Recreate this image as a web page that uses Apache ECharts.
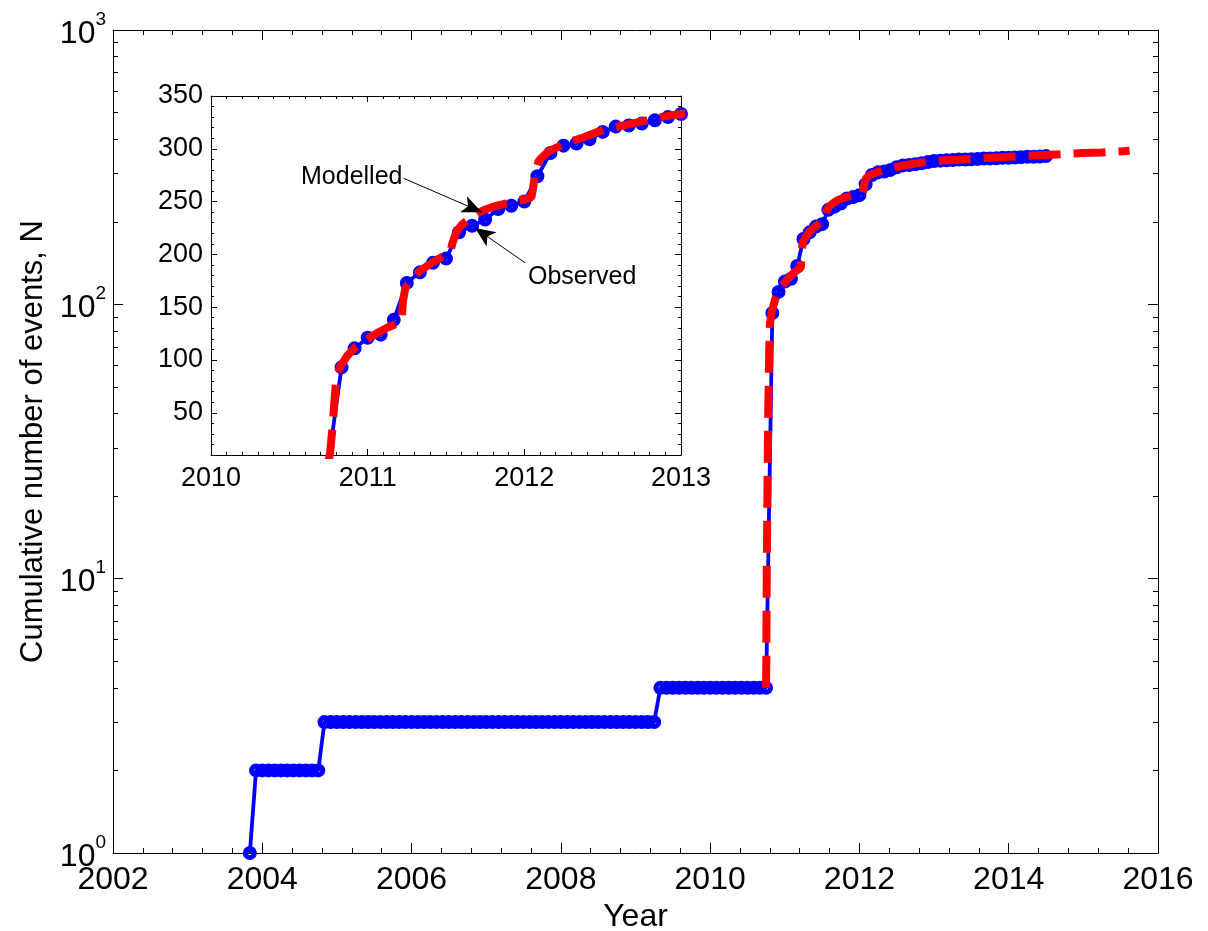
<!DOCTYPE html>
<html><head><meta charset="utf-8">
<script src="https://cdn.jsdelivr.net/npm/echarts@6/dist/echarts.min.js"></script>
<style>html,body{margin:0;padding:0;background:#fff}#c{width:1208px;height:931px}</style>
</head><body><div id="c"></div>
<script>
// ---------- data ----------
// Observed cumulative counts, one value per month starting November 2003
const observedStartYear = 2003;
const observedStartMonth = 11;
const observedCounts = [
  1,
  2,2,2,2,2,2,2,2,2,2,2,
  3,3,3,3,3,3,3,3,3,3,3,3,3,3,3,3,3,3,3,3,3,3,3,3,3,3,3,3,3,3,3,3,3,3,3,3,3,3,3,3,3,3,3,3,3,3,3,3,3,3,3,3,3,3,
  4,4,4,4,4,4,4,4,4,4,4,4,4,4,4,4,4,4,
  93,111,121,124,138,173,183,192,196,221,227,233,243,246,
  250,274,296,303,305,309,316,321,322,324,327,330,
  333,334,335,336,337,337,338,339,340,340,341,342,342,
  343,344,345,345,346,347
];
// Modelled cumulative counts (red dashed curve)
const modelYears = [2010.75,2010.76,2010.775,2010.79,2010.80,2010.83,2010.87,2010.92,2010.97,2011.02,
  2011.08,2011.13,2011.18,2011.215,2011.225,2011.24,2011.28,2011.33,2011.38,2011.43,
  2011.48,2011.525,2011.54,2011.565,2011.60,2011.65,2011.70,2011.76,2011.82,2011.88,
  2011.94,2012.00,2012.045,2012.055,2012.07,2012.09,2012.12,2012.16,2012.22,2012.30,
  2012.38,2012.45,2012.52,2012.60,2012.69,2012.78,2012.87,2012.95,2013.0,2013.25,
  2013.5,2013.75,2014.0,2014.25,2014.5,2014.75,2015.0,2015.25,2015.5,2015.62];
const modelValues = [4,12,35,65,85,95,104,112,117,122,
  127,131,134,136,155,168,176,184,189,194,
  198,201,210,221,228,234,239,243,246,248,
  250,252,254,262,277,288,293,298,302,307,
  311,315,318,321,324,327,330,332,333,336,
  339,342,345,348,350,353,356,358,361,363];
// Axis ranges / tick labels
const mainYears = [2002, 2016];
const mainCounts = [1, 1000];
const insetYears = [2010, 2013];
const insetCounts = [10, 350];
const insetYTicks = [50, 100, 150, 200, 250, 300, 350];
// Annotations (text, arrow tail [year,count], arrow head [year,count])
const annModelled = {text: 'Modelled', tail: [2011.23, 272], head: [2011.729, 240]};
const annObserved = {text: 'Observed', tail: [2012.005, 192], head: [2011.686, 225]};

// ---------- build ----------
const F = "'Liberation Sans', Arial, Helvetica, sans-serif";
const obsData = observedCounts.map((c, i) => [observedStartYear + (observedStartMonth - 1 + i) / 12, c]);
const modelData = modelYears.map((y, i) => [y, modelValues[i]]);

const logMinorTicks = [];
for (let d = 0; d < 3; d++) for (let k = 2; k <= 9; k++) logMinorTicks.push(d + Math.log10(k));

const black = '#000';
const axLine = {show: true, onZero: false, lineStyle: {color: black, width: 1}};
const noSplit = {show: false};

function xAx(grid, range, interval, split, tickLen, minorLen, withLabels, fs, margin, pos, name) {
  const o = {
    gridIndex: grid, type: 'value', min: range[0], max: range[1], interval: interval, position: pos,
    axisLine: axLine,
    axisTick: {show: true, inside: true, length: tickLen, lineStyle: {color: black}},
    minorTick: {show: true, splitNumber: split, length: minorLen, lineStyle: {color: black}},
    splitLine: noSplit, minorSplitLine: noSplit,
    axisLabel: {show: withLabels, fontSize: fs, fontFamily: F, color: black, margin: margin,
      showMinLabel: true, showMaxLabel: true, formatter: v => String(v)}
  };
  if (name) {
    o.name = name; o.nameLocation = 'middle'; o.nameGap = 44;
    o.nameTextStyle = {fontSize: 32, fontFamily: F, color: black};
  }
  return o;
}

function obsSeries(xi, yi) {
  return {
    type: 'line', xAxisIndex: xi, yAxisIndex: yi, data: obsData, clip: true,
    symbol: 'circle', symbolSize: 9, showSymbol: true, showAllSymbol: true,
    lineStyle: {color: '#0000ff', width: 3.8},
    itemStyle: {color: 'rgba(0,0,0,0)', borderColor: '#0000ff', borderWidth: 5},
    emphasis: {disabled: true}, silent: true, z: 2
  };
}
function modelSeries(xi, yi) {
  return {
    type: 'line', xAxisIndex: xi, yAxisIndex: yi, data: modelData, clip: true,
    symbol: 'none', showSymbol: false,
    lineStyle: {color: '#ff0000', width: 8, type: [32, 13], cap: 'butt'},
    emphasis: {disabled: true}, silent: true, z: 3
  };
}

const option = {
  backgroundColor: '#fff',
  animation: false,
  grid: [
    {left: 113, top: 30, width: 1045, height: 823, outerBoundsMode: 'none', containLabel: false},
    {left: 211, top: 96, width: 470, height: 359, outerBoundsMode: 'none', containLabel: false}
  ],
  xAxis: [
    xAx(0, mainYears, 2, 5, 10, 5, true, 32, 11, 'bottom', 'Year'),
    xAx(0, mainYears, 2, 5, 10, 5, false, 32, 11, 'top'),
    xAx(1, insetYears, 1, 10, 6, 3, true, 27, 10, 'bottom'),
    xAx(1, insetYears, 1, 10, 6, 3, false, 27, 10, 'top')
  ],
  yAxis: [
    { gridIndex: 0, type: 'log', logBase: 10, min: mainCounts[0], max: mainCounts[1], position: 'left',
      axisLine: axLine,
      axisTick: {show: true, inside: true, length: 10, lineStyle: {color: black}},
      splitLine: noSplit,
      axisLabel: {show: true, margin: 7, color: black, showMinLabel: true, showMaxLabel: true,
        formatter: v => '{b|10}{s|' + Math.round(Math.log10(v)) + '}',
        rich: {
          b: {fontSize: 32, fontFamily: F, color: black, padding: [8, 0, 0, 0]},
          s: {fontSize: 19, fontFamily: F, color: black, verticalAlign: 'top'}
        }},
      name: 'Cumulative number of events, N', nameLocation: 'middle', nameGap: 64,
      nameTextStyle: {fontSize: 31, fontFamily: F, color: black}
    },
    { gridIndex: 0, type: 'log', logBase: 10, min: mainCounts[0], max: mainCounts[1], position: 'right',
      axisLine: axLine, axisTick: {show: true, inside: true, length: 10, lineStyle: {color: black}},
      splitLine: noSplit, axisLabel: {show: false} },
    { gridIndex: 0, type: 'value', min: 0, max: 3, position: 'left',
      axisLine: {show: false}, splitLine: noSplit, axisLabel: {show: false},
      axisTick: {show: true, inside: true, length: 5, customValues: logMinorTicks, lineStyle: {color: black}} },
    { gridIndex: 0, type: 'value', min: 0, max: 3, position: 'right',
      axisLine: {show: false}, splitLine: noSplit, axisLabel: {show: false},
      axisTick: {show: true, inside: true, length: 5, customValues: logMinorTicks, lineStyle: {color: black}} },
    { gridIndex: 1, type: 'value', min: insetCounts[0], max: insetCounts[1], position: 'left',
      axisLine: axLine, splitLine: noSplit,
      axisTick: {show: true, inside: true, length: 6, customValues: insetYTicks, lineStyle: {color: black}},
      axisLabel: {show: true, customValues: insetYTicks, fontSize: 27, fontFamily: F, color: black, margin: 8,
        showMinLabel: true, showMaxLabel: true} },
    { gridIndex: 1, type: 'value', min: insetCounts[0], max: insetCounts[1], position: 'right',
      axisLine: axLine, splitLine: noSplit, axisLabel: {show: false},
      axisTick: {show: true, inside: true, length: 6, customValues: insetYTicks, lineStyle: {color: black}} },
    { gridIndex: 1, type: 'value', min: insetCounts[0], max: insetCounts[1], interval: 10, position: 'left',
      axisLine: {show: false}, splitLine: noSplit, axisLabel: {show: false},
      axisTick: {show: true, inside: true, length: 3, lineStyle: {color: black}} },
    { gridIndex: 1, type: 'value', min: insetCounts[0], max: insetCounts[1], interval: 10, position: 'right',
      axisLine: {show: false}, splitLine: noSplit, axisLabel: {show: false},
      axisTick: {show: true, inside: true, length: 3, lineStyle: {color: black}} }
  ],
  series: [
    obsSeries(0, 0),
    modelSeries(0, 0),
    obsSeries(2, 4),
    Object.assign(modelSeries(2, 4), {
      markLine: {
        silent: true, animation: false, symbol: ['none', 'arrow'], symbolSize: [13, 20],
        lineStyle: {color: black, width: 1, type: 'solid'}, label: {show: false},
        emphasis: {disabled: true},
        data: [
          [{coord: annModelled.tail}, {coord: annModelled.head}],
          [{coord: annObserved.tail}, {coord: annObserved.head}]
        ]
      }
    })
  ],
  graphic: [
    {type: 'text', left: 301, top: 165, style: {text: annModelled.text, fontSize: 25, fontFamily: F, fill: black}},
    {type: 'text', left: 528, top: 265, style: {text: annObserved.text, fontSize: 25, fontFamily: F, fill: black}}
  ]
};

const chart = echarts.init(document.getElementById('c'), null, {renderer: 'canvas'});
chart.setOption(option);
</script>
</body></html>
